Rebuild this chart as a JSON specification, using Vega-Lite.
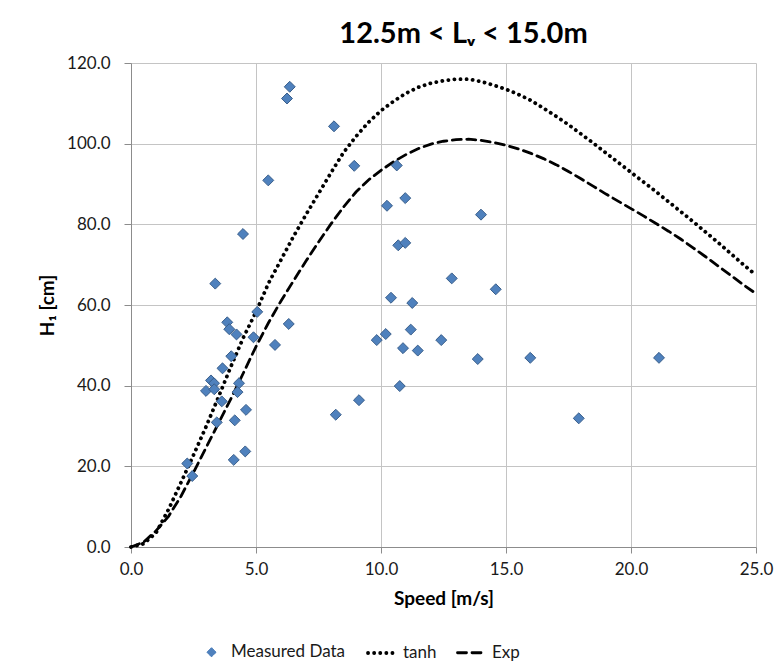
{
  "$schema": "https://vega.github.io/schema/vega-lite/v6.json",
  "width": 625,
  "height": 484,
  "autosize": {"type": "none"},
  "padding": {"left": 131, "top": 63, "right": 24, "bottom": 123},
  "background": "white",
  "config": {"view": {"stroke": null}, "font": "Lato"},
  "title": {"text": "12.5m < Lᵥ < 15.0m", "fontSize": 29, "font": "Lato", "fontWeight": "bold", "anchor": "middle", "dx": 20, "offset": 5, "color": "black"},
  "datasets": {
    "measured": [
      {"series": "Measured Data", "speed": 6.35, "h": 114.1},
      {"series": "Measured Data", "speed": 6.24, "h": 111.2},
      {"series": "Measured Data", "speed": 8.12, "h": 104.3},
      {"series": "Measured Data", "speed": 5.49, "h": 90.9},
      {"series": "Measured Data", "speed": 4.48, "h": 77.6},
      {"series": "Measured Data", "speed": 3.37, "h": 65.3},
      {"series": "Measured Data", "speed": 8.93, "h": 94.5},
      {"series": "Measured Data", "speed": 10.63, "h": 94.6},
      {"series": "Measured Data", "speed": 10.24, "h": 84.6},
      {"series": "Measured Data", "speed": 10.97, "h": 86.5},
      {"series": "Measured Data", "speed": 14.0, "h": 82.4},
      {"series": "Measured Data", "speed": 10.69, "h": 74.8},
      {"series": "Measured Data", "speed": 10.97, "h": 75.4},
      {"series": "Measured Data", "speed": 12.83, "h": 66.6},
      {"series": "Measured Data", "speed": 14.59, "h": 63.9},
      {"series": "Measured Data", "speed": 10.4, "h": 61.8},
      {"series": "Measured Data", "speed": 11.25, "h": 60.5},
      {"series": "Measured Data", "speed": 9.83, "h": 51.3},
      {"series": "Measured Data", "speed": 10.19, "h": 52.8},
      {"series": "Measured Data", "speed": 11.19, "h": 53.9},
      {"series": "Measured Data", "speed": 10.88, "h": 49.3},
      {"series": "Measured Data", "speed": 11.47, "h": 48.7},
      {"series": "Measured Data", "speed": 12.41, "h": 51.3},
      {"series": "Measured Data", "speed": 13.87, "h": 46.6},
      {"series": "Measured Data", "speed": 15.97, "h": 46.9},
      {"series": "Measured Data", "speed": 21.12, "h": 46.9},
      {"series": "Measured Data", "speed": 17.91, "h": 31.9},
      {"series": "Measured Data", "speed": 10.75, "h": 39.9},
      {"series": "Measured Data", "speed": 9.12, "h": 36.4},
      {"series": "Measured Data", "speed": 8.19, "h": 32.8},
      {"series": "Measured Data", "speed": 5.05, "h": 58.3},
      {"series": "Measured Data", "speed": 6.31, "h": 55.3},
      {"series": "Measured Data", "speed": 3.85, "h": 55.7},
      {"series": "Measured Data", "speed": 3.93, "h": 54.0},
      {"series": "Measured Data", "speed": 4.22, "h": 52.7},
      {"series": "Measured Data", "speed": 4.9, "h": 52.0},
      {"series": "Measured Data", "speed": 5.76, "h": 50.1},
      {"series": "Measured Data", "speed": 4.01, "h": 47.3},
      {"series": "Measured Data", "speed": 3.66, "h": 44.3},
      {"series": "Measured Data", "speed": 3.2, "h": 41.3},
      {"series": "Measured Data", "speed": 3.32, "h": 40.6},
      {"series": "Measured Data", "speed": 4.32, "h": 40.6},
      {"series": "Measured Data", "speed": 3.0, "h": 38.7},
      {"series": "Measured Data", "speed": 3.33, "h": 39.1},
      {"series": "Measured Data", "speed": 4.26, "h": 38.4},
      {"series": "Measured Data", "speed": 3.63, "h": 36.1},
      {"series": "Measured Data", "speed": 4.6, "h": 34.0},
      {"series": "Measured Data", "speed": 3.43, "h": 30.9},
      {"series": "Measured Data", "speed": 4.15, "h": 31.4},
      {"series": "Measured Data", "speed": 4.57, "h": 23.7},
      {"series": "Measured Data", "speed": 4.11, "h": 21.6},
      {"series": "Measured Data", "speed": 2.25, "h": 20.7},
      {"series": "Measured Data", "speed": 2.45, "h": 17.6}
    ],
    "curves": [
      {"series": "tanh", "speed": 0, "h": 0},
      {"series": "tanh", "speed": 0.5, "h": 0.8},
      {"series": "tanh", "speed": 1.0, "h": 3.5},
      {"series": "tanh", "speed": 1.5, "h": 9.3},
      {"series": "tanh", "speed": 2.0, "h": 16.0},
      {"series": "tanh", "speed": 2.5, "h": 22.8},
      {"series": "tanh", "speed": 3.0, "h": 29.8},
      {"series": "tanh", "speed": 3.5, "h": 37.2},
      {"series": "tanh", "speed": 4.0, "h": 44.8},
      {"series": "tanh", "speed": 4.5, "h": 52.0},
      {"series": "tanh", "speed": 5.0, "h": 58.3},
      {"series": "tanh", "speed": 5.5, "h": 65.4},
      {"series": "tanh", "speed": 6.0, "h": 71.2},
      {"series": "tanh", "speed": 6.5, "h": 77.0},
      {"series": "tanh", "speed": 7.0, "h": 82.4},
      {"series": "tanh", "speed": 7.5, "h": 87.6},
      {"series": "tanh", "speed": 8.0, "h": 92.8},
      {"series": "tanh", "speed": 8.5, "h": 97.8},
      {"series": "tanh", "speed": 9.0, "h": 101.8},
      {"series": "tanh", "speed": 9.5, "h": 105.3},
      {"series": "tanh", "speed": 10.0, "h": 108.2},
      {"series": "tanh", "speed": 10.5, "h": 110.5},
      {"series": "tanh", "speed": 11.0, "h": 112.5},
      {"series": "tanh", "speed": 11.5, "h": 114.0},
      {"series": "tanh", "speed": 12.0, "h": 115.0},
      {"series": "tanh", "speed": 12.5, "h": 115.6},
      {"series": "tanh", "speed": 13.0, "h": 116.0},
      {"series": "tanh", "speed": 13.5, "h": 116.0},
      {"series": "tanh", "speed": 14.0, "h": 115.4},
      {"series": "tanh", "speed": 14.5, "h": 114.5},
      {"series": "tanh", "speed": 15.0, "h": 113.5},
      {"series": "tanh", "speed": 15.5, "h": 112.2},
      {"series": "tanh", "speed": 16.0, "h": 110.7},
      {"series": "tanh", "speed": 16.5, "h": 108.8},
      {"series": "tanh", "speed": 17.0, "h": 106.8},
      {"series": "tanh", "speed": 17.5, "h": 104.7},
      {"series": "tanh", "speed": 18.0, "h": 102.4},
      {"series": "tanh", "speed": 18.5, "h": 100.1},
      {"series": "tanh", "speed": 19.0, "h": 97.7},
      {"series": "tanh", "speed": 19.5, "h": 95.3},
      {"series": "tanh", "speed": 20.0, "h": 92.9},
      {"series": "tanh", "speed": 20.5, "h": 90.5},
      {"series": "tanh", "speed": 21.0, "h": 88.1},
      {"series": "tanh", "speed": 21.5, "h": 85.6},
      {"series": "tanh", "speed": 22.0, "h": 83.1},
      {"series": "tanh", "speed": 22.5, "h": 80.6},
      {"series": "tanh", "speed": 23.0, "h": 78.0},
      {"series": "tanh", "speed": 23.5, "h": 75.4},
      {"series": "tanh", "speed": 24.0, "h": 72.7},
      {"series": "tanh", "speed": 24.5, "h": 70.0},
      {"series": "tanh", "speed": 25.0, "h": 67.4},
      {"series": "Exp", "speed": 0, "h": 0},
      {"series": "Exp", "speed": 0.5, "h": 1.2},
      {"series": "Exp", "speed": 1.0, "h": 4.0},
      {"series": "Exp", "speed": 1.5, "h": 7.6},
      {"series": "Exp", "speed": 2.0, "h": 12.6},
      {"series": "Exp", "speed": 2.5, "h": 18.5},
      {"series": "Exp", "speed": 3.0, "h": 24.6},
      {"series": "Exp", "speed": 3.5, "h": 30.7},
      {"series": "Exp", "speed": 4.0, "h": 36.8},
      {"series": "Exp", "speed": 4.5, "h": 43.2},
      {"series": "Exp", "speed": 5.0, "h": 49.7},
      {"series": "Exp", "speed": 5.5, "h": 55.6},
      {"series": "Exp", "speed": 6.0, "h": 61.0},
      {"series": "Exp", "speed": 6.5, "h": 66.0},
      {"series": "Exp", "speed": 7.0, "h": 70.9},
      {"series": "Exp", "speed": 7.5, "h": 75.6},
      {"series": "Exp", "speed": 8.0, "h": 80.1},
      {"series": "Exp", "speed": 8.5, "h": 84.3},
      {"series": "Exp", "speed": 9.0, "h": 88.0},
      {"series": "Exp", "speed": 9.5, "h": 91.0},
      {"series": "Exp", "speed": 10.0, "h": 93.4},
      {"series": "Exp", "speed": 10.5, "h": 95.5},
      {"series": "Exp", "speed": 11.0, "h": 97.3},
      {"series": "Exp", "speed": 11.5, "h": 98.8},
      {"series": "Exp", "speed": 12.0, "h": 99.9},
      {"series": "Exp", "speed": 12.5, "h": 100.6},
      {"series": "Exp", "speed": 13.0, "h": 101.0},
      {"series": "Exp", "speed": 13.5, "h": 101.1},
      {"series": "Exp", "speed": 14.0, "h": 100.8},
      {"series": "Exp", "speed": 14.5, "h": 100.3},
      {"series": "Exp", "speed": 15.0, "h": 99.6},
      {"series": "Exp", "speed": 15.5, "h": 98.7},
      {"series": "Exp", "speed": 16.0, "h": 97.6},
      {"series": "Exp", "speed": 16.5, "h": 96.3},
      {"series": "Exp", "speed": 17.0, "h": 94.8},
      {"series": "Exp", "speed": 17.5, "h": 93.1},
      {"series": "Exp", "speed": 18.0, "h": 91.3},
      {"series": "Exp", "speed": 18.5, "h": 89.4},
      {"series": "Exp", "speed": 19.0, "h": 87.5},
      {"series": "Exp", "speed": 19.5, "h": 85.7},
      {"series": "Exp", "speed": 20.0, "h": 83.9},
      {"series": "Exp", "speed": 20.5, "h": 82.1},
      {"series": "Exp", "speed": 21.0, "h": 80.2},
      {"series": "Exp", "speed": 21.5, "h": 78.3},
      {"series": "Exp", "speed": 22.0, "h": 76.3},
      {"series": "Exp", "speed": 22.5, "h": 74.1},
      {"series": "Exp", "speed": 23.0, "h": 71.9},
      {"series": "Exp", "speed": 23.5, "h": 69.6},
      {"series": "Exp", "speed": 24.0, "h": 67.3},
      {"series": "Exp", "speed": 24.5, "h": 65.0},
      {"series": "Exp", "speed": 25.0, "h": 62.8}
    ]
  },
  "encoding": {
    "x": {
      "field": "speed", "type": "quantitative",
      "scale": {"domain": [0, 25], "nice": false, "zero": true},
      "axis": {
        "values": [0, 5, 10, 15, 20, 25], "format": ".1f", "title": "Speed [m/s]",
        "titleFont": "Lato", "titleFontSize": 19, "titleFontWeight": "bold", "titleColor": "black", "titlePadding": 12,
        "labelFont": "Lato", "labelFontSize": 17, "labelColor": "#1a1a1a", "labelPadding": 8,
        "tickSize": 6, "tickColor": "#8c8c8c", "domainColor": "#8c8c8c",
        "grid": true, "gridColor": "#c4c4c4", "labelFlush": false
      }
    },
    "y": {
      "field": "h", "type": "quantitative",
      "scale": {"domain": [0, 120], "nice": false},
      "axis": {
        "values": [0, 20, 40, 60, 80, 100, 120], "format": ".1f", "title": "H₁ [cm]",
        "titleFont": "Lato", "titleFontSize": 19, "titleFontWeight": "bold", "titleColor": "black", "titlePadding": 9,
        "labelFont": "Lato", "labelFontSize": 17, "labelColor": "#1a1a1a", "labelPadding": 14,
        "tickSize": 7, "tickColor": "#8c8c8c", "domainColor": "#8c8c8c",
        "grid": true, "gridColor": "#c4c4c4"
      }
    }
  },
  "layer": [
    {
      "data": {"name": "curves"},
      "mark": {"type": "line", "strokeCap": "round"},
      "encoding": {
        "color": {
          "field": "series", "type": "nominal",
          "scale": {"domain": ["Measured Data", "tanh", "Exp"], "range": ["#4f81bd", "#000000", "#000000"]},
          "legend": {
            "title": null, "orient": "none", "legendX": 66, "legendY": 574, "direction": "horizontal",
            "labelFont": "Lato", "labelFontSize": 17, "labelColor": "#1a1a1a", "labelOffset": 5,
            "columnPadding": 14, "symbolSize": 784, "symbolStrokeWidth": 3,
            "encode": {
              "symbols": {
                "update": {
                  "size": {"signal": "datum.value === 'Measured Data' ? 80 : 784"},
                  "strokeCap": {"value": "round"},
                  "fill": {"signal": "datum.value === 'Measured Data' ? '#4f81bd' : 'transparent'"},
                  "stroke": {"signal": "datum.value === 'Measured Data' ? '#3a5f8b' : '#000000'"},
                  "strokeWidth": {"signal": "datum.value === 'Measured Data' ? 1 : datum.value === 'tanh' ? 3.8 : 2.8"}
                }
              }
            }
          }
        },
        "strokeDash": {
          "field": "series", "type": "nominal",
          "scale": {"domain": ["Measured Data", "tanh", "Exp"], "range": [[1, 0], [0.1, 6], [9, 5.5]]}
        },
        "strokeWidth": {
          "field": "series", "type": "nominal",
          "scale": {"type": "ordinal", "domain": ["Measured Data", "tanh", "Exp"], "range": [1, 3.8, 2.8]}
        }
      }
    },
    {
      "data": {"name": "measured"},
      "mark": {"type": "point", "filled": true, "size": 120, "stroke": "#3a5f8b", "strokeWidth": 1, "opacity": 1},
      "encoding": {
        "color": {"field": "series", "type": "nominal"},
        "shape": {
          "field": "series", "type": "nominal",
          "scale": {"domain": ["Measured Data", "tanh", "Exp"], "range": ["diamond", "stroke", "stroke"]}
        }
      }
    }
  ]
}
